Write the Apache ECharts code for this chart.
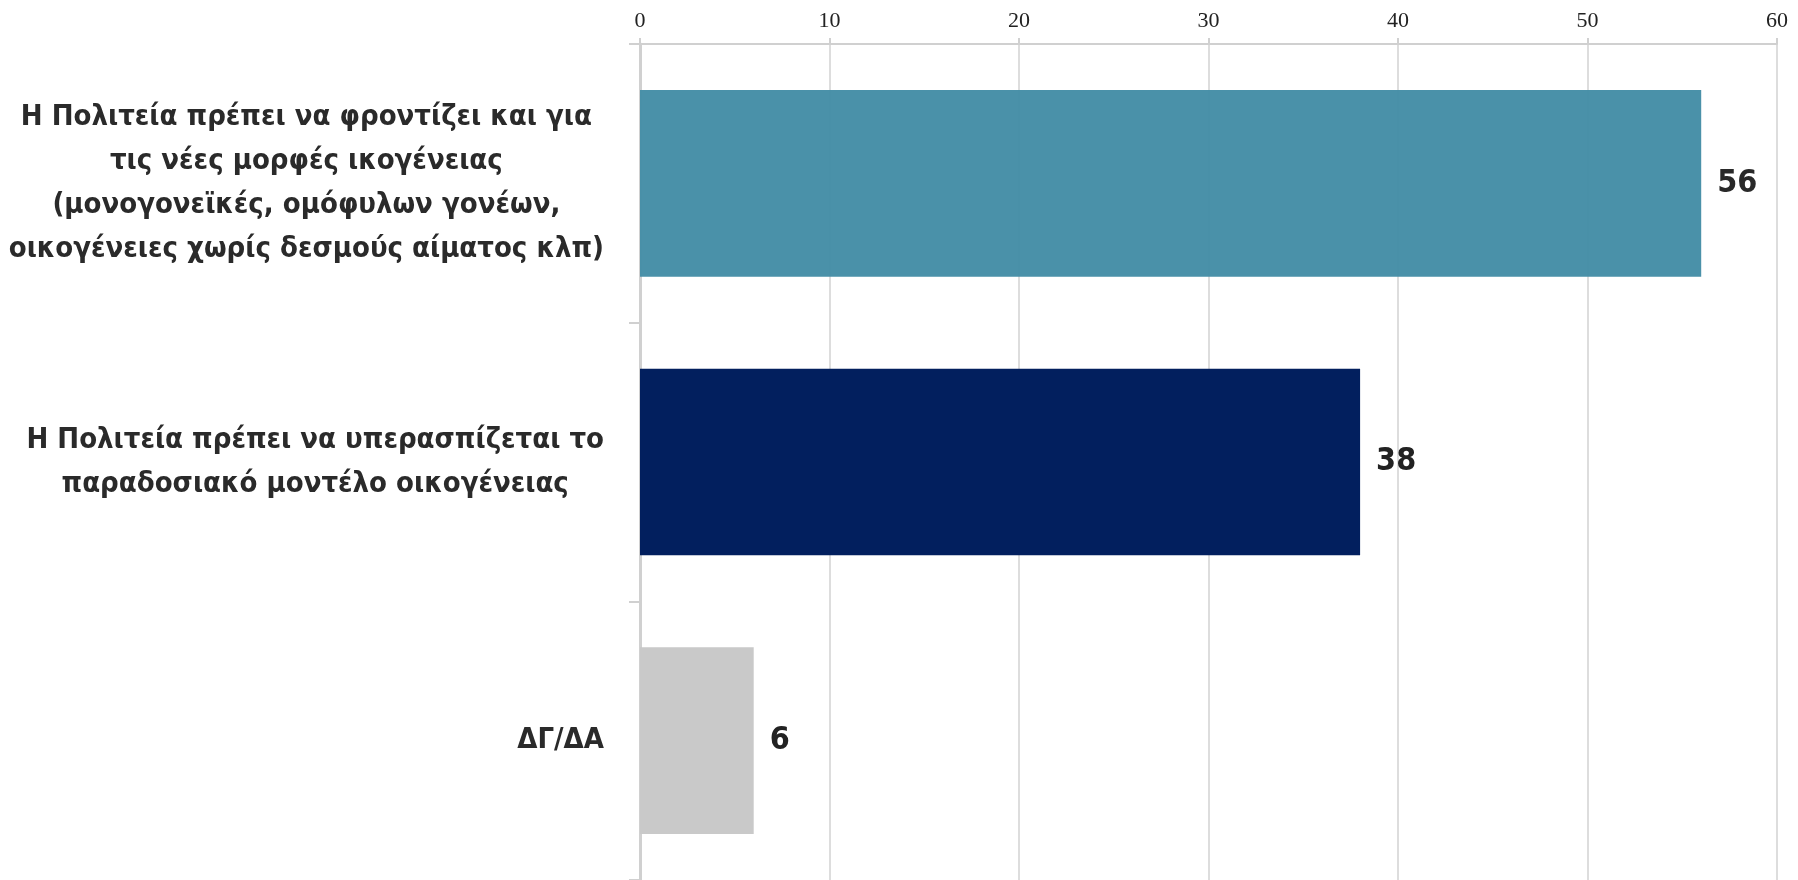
<!DOCTYPE html>
<html>
<head>
<meta charset="utf-8">
<script src="https://cdn.jsdelivr.net/npm/echarts@6/dist/echarts.min.js"></script>
<style>
html,body{margin:0;padding:0;background:#fff;}
#chart{width:1798px;height:880px;}
</style>
</head>
<body>
<div id="chart"></div>
<script>
var categories = [
  "Η Πολιτεία πρέπει να φροντίζει και για\nτις νέες μορφές ικογένειας\n(μονογονεϊκές, ομόφυλων γονέων,\nοικογένειες χωρίς δεσμούς αίματος κλπ)",
  "Η Πολιτεία πρέπει να υπερασπίζεται το\nπαραδοσιακό μοντέλο οικογένειας",
  "ΔΓ/ΔΑ"
];
var values = [56, 38, 6];
var barColors = ["#448da6", "#021f5e", "#c9c9c9"];
var xTicks = [0, 10, 20, 30, 40, 50, 60];

var labelFont = '"Liberation Sans Narrow", "Arial Narrow", "DejaVu Sans Condensed", sans-serif';
var chart = echarts.init(document.getElementById('chart'), null, {renderer: 'canvas'});
var option = {
  animation: false,
  backgroundColor: '#fff',
  grid: {left: 640, right: 21, top: 44, bottom: 0, containLabel: false, outerBoundsMode: 'none'},
  xAxis: {
    type: 'value',
    position: 'top',
    min: xTicks[0],
    max: xTicks[xTicks.length - 1],
    interval: 10,
    axisLine: {show: true, lineStyle: {color: '#d0d0d0', width: 2}},
    axisTick: {show: true, length: 6, lineStyle: {color: '#d0d0d0', width: 2}},
    splitLine: {show: true, lineStyle: {color: '#dddddd', width: 2}},
    axisLabel: {
      margin: 12,
      color: '#222',
      fontSize: 22,
      fontFamily: '"Liberation Serif", "DejaVu Serif", serif'
    }
  },
  yAxis: {
    type: 'category',
    inverse: true,
    data: categories,
    axisLine: {show: true, lineStyle: {color: '#d0d0d0', width: 3}},
    axisTick: {show: true, length: 11, lineStyle: {color: '#d0d0d0', width: 2}},
    axisLabel: {
      margin: 36,
      formatter: function (v) {
        return v.split('\n').map(function (l) { return '{a|' + l + '}'; }).join('\n');
      },
      rich: {
        a: {
          align: 'center',
          fontSize: 29,
          lineHeight: 44,
          fontWeight: 'bold',
          color: '#2a2a2a',
          fontFamily: labelFont
        }
      }
    }
  },
  series: [{
    type: 'bar',
    barCategoryGap: '33%',
    data: values.map(function (v, i) {
      return {value: v, itemStyle: {color: barColors[i], opacity: i === 0 ? 0.97 : 1}};
    }),
    label: {
      show: true,
      position: 'right',
      distance: 16,
      fontSize: 32,
      fontWeight: 'bold',
      color: '#222',
      fontFamily: labelFont
    }
  }]
};
chart.setOption(option);
</script>
</body>
</html>
